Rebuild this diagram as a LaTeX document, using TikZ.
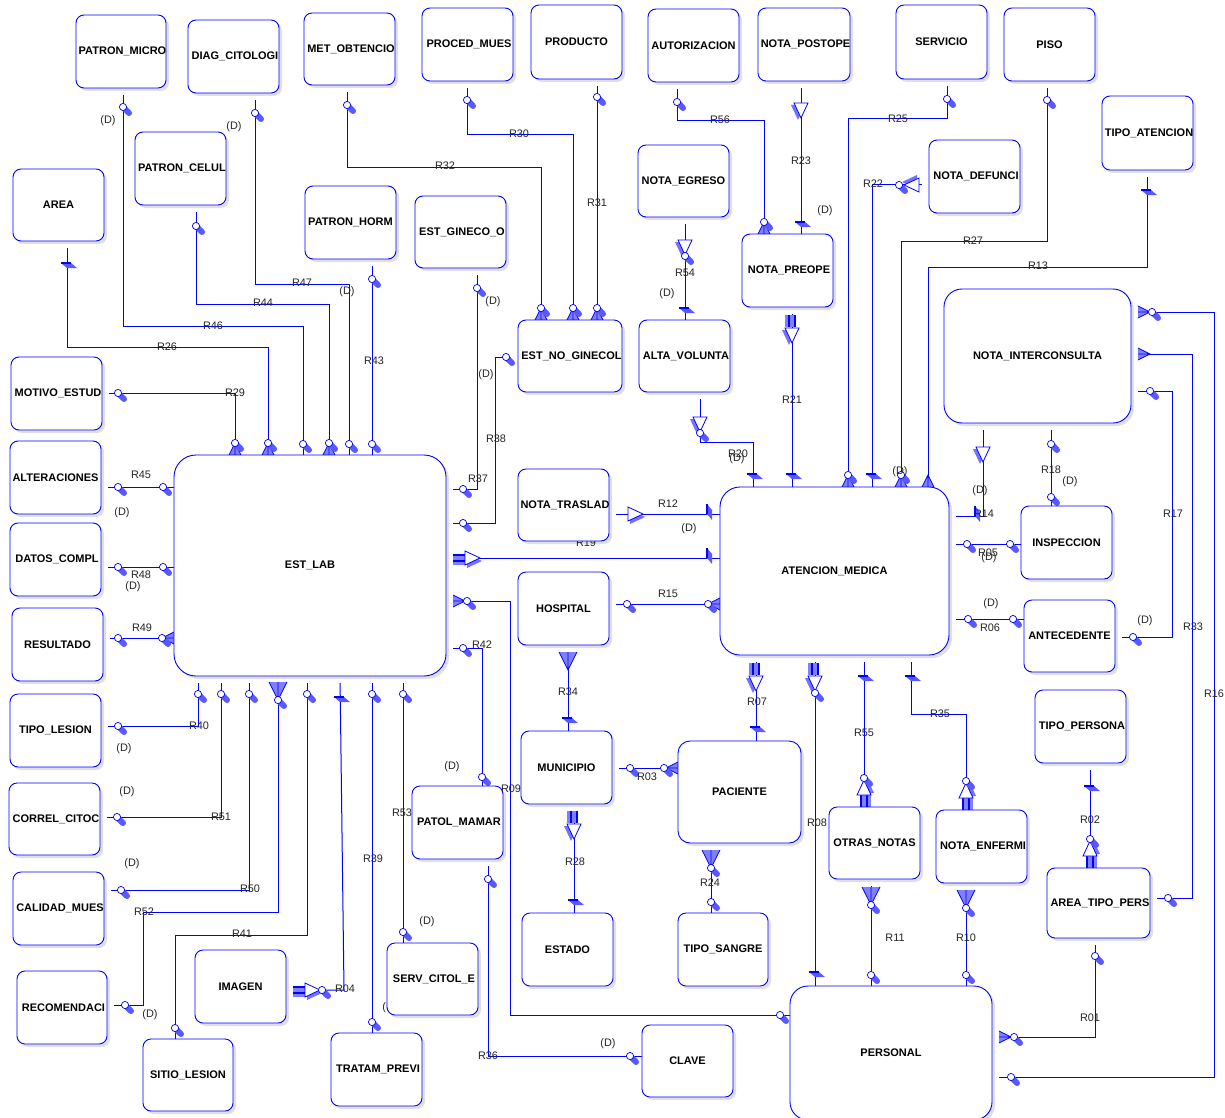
\documentclass[tikz,border=0pt]{standalone}
\usepackage{fontspec}
\setmainfont{Liberation Sans}
\usetikzlibrary{shadows}
\pgfdeclarelayer{bg}
\pgfsetlayers{bg,main}
\tikzset{
  ent/.style={draw=blue, line width=0.9pt, fill=white, inner sep=0pt, outer sep=0pt,
    general shadow={fill=black, fill opacity=0.12, shadow xshift=3pt, shadow yshift=-3pt}},
  enttext/.style={inner sep=0pt, font=\bfseries\fontsize{11}{12}\selectfont, text=black},
  rel/.style={draw=blue, line width=1pt, shorten <=7pt},
  ge/.style={shorten >=7pt},
  lbl/.style={font=\fontsize{10.9}{12}\selectfont, text=black!85, inner sep=0pt},
  oc/.pic={\draw[blue!65,line width=6pt,line cap=round] (1.5,1.5) -- (6,6);
           \draw[blue,line width=0.7pt,fill=white] (0,0) circle (3.6);},
  crow/.pic={\fill[blue!50] (0,-6) -- (12,0) -- (0,6) -- cycle;
             \draw[blue,line width=0.8pt] (0,-6) -- (12,0) -- (0,6) (0,0) -- (12,0);},
  crowl/.pic={\fill[blue!50] (0,-9) -- (18,0) -- (0,9) -- cycle;
              \draw[blue,line width=0.8pt] (0,-9) -- (18,0) -- (0,9) (0,0) -- (18,0);},
  tri/.pic={\fill[blue!55] (2,-4) -- (17,3) -- (2,10) -- cycle;
            \draw[blue,line width=0.8pt,fill=white] (0,-7) -- (15,0) -- (0,7) -- cycle;},
  par/.pic={\fill[blue!50] (0,-2) rectangle (12,7);
            \draw[blue,line width=1.6pt] (0,-3) -- (12,-3) (0,3) -- (12,3);},
  barv/.pic={\fill[blue!65] (-6,0) -- (4,0) -- (10,5) -- (0,5) -- cycle;
             \draw[blue,line width=1.3pt] (-6,0) -- (4,0);},
  barh/.pic={\fill[blue!65] (0,-6) -- (0,4) -- (5,10) -- (5,0) -- cycle;
             \draw[blue,line width=1.3pt] (0,-6) -- (0,4);}
}
\newcommand{\entC}[7][8]{\node[ent, rounded corners=#1pt, minimum width={#5-#3}, minimum height={#6-#4},
  path picture={\node[enttext] at (path picture bounding box.center) {#7};}] (#2) at ({(#3+#5)/2},{(#4+#6)/2}) {};}
\newcommand{\entL}[7][8]{\node[ent, rounded corners=#1pt, minimum width={#5-#3}, minimum height={#6-#4},
  path picture={\node[enttext,anchor=west] at ([xshift=1.5pt]path picture bounding box.west) {#7};}] (#2) at ({(#3+#5)/2},{(#4+#6)/2}) {};}
\begin{document}
\begin{tikzpicture}[x=1pt,y=-1pt]
\useasboundingbox (0,0) rectangle (1225,1118);
\clip (0,0) rectangle (1225,1118);
\begin{pgfonlayer}{bg}
\fill[white] (0,0) rectangle (1225,1118);
\end{pgfonlayer}
% ---------------- entities ----------------
\entL{pm}{76}{15}{166}{88}{PATRON\_MICRO}
\entL{dc}{188}{20}{279}{93}{DIAG\_CITOLOGI}
\entL{mo}{304}{13}{395}{85}{MET\_OBTENCIO}
\entL{pc}{135}{132}{226}{205}{PATRON\_CELUL}
\entC{ar}{13}{169}{104}{241}{AREA}
\entC{ph}{305}{186}{396}{259}{PATRON\_HORM}
\entL{pr}{422}{8}{513}{81}{PROCED\_MUES}
\entC{pd}{531}{5}{622}{79}{PRODUCTO}
\entC{au}{648}{9}{739}{82}{AUTORIZACION}
\entL{np}{758}{8}{850}{81}{NOTA\_POSTOPE}
\entL{eg}{415}{196}{506}{268}{EST\_GINECO\_O}
\entC{ne}{638}{145}{729}{217}{NOTA\_EGRESO}
\entL{npr}{742}{234}{833}{307}{NOTA\_PREOPE}
\entC{sv}{896}{5}{987}{79}{SERVICIO}
\entC{pi}{1004}{8}{1095}{81}{PISO}
\entL{nd}{929}{140}{1020}{213}{NOTA\_DEFUNCI}
\entL{ta}{1102}{96}{1193}{170}{TIPO\_ATENCION}
\entL{eng}{518}{320}{622}{392}{EST\_NO\_GINECOL}
\entL{av}{639}{320}{730}{392}{ALTA\_VOLUNTA}
\entC[18]{ni}{944}{289}{1131}{423}{NOTA\_INTERCONSULTA}
\entL{me}{11}{357}{102}{430}{MOTIVO\_ESTUD}
\entC{al}{10}{441}{101}{514}{ALTERACIONES}
\entL{dco}{10}{523}{101}{596}{DATOS\_COMPL}
\entC{re}{12}{608}{103}{681}{RESULTADO}
\entC[22]{el}{174}{455}{446}{676}{EST\_LAB}
\entL{nt}{518}{469}{609}{541}{NOTA\_TRASLAD}
\entC{ho}{518}{572}{609}{645}{HOSPITAL}
\entC[20]{am}{720}{487}{949}{655}{ATENCION\_MEDICA}
\entC{in}{1021}{506}{1112}{579}{INSPECCION}
\entC{an}{1024}{600}{1115}{672}{ANTECEDENTE}
\entC{tl}{10}{694}{101}{767}{TIPO\_LESION}
\entL{cc}{9}{783}{100}{855}{CORREL\_CITOC}
\entL{cm}{13}{872}{104}{945}{CALIDAD\_MUES}
\entL{rc}{17}{971}{107}{1044}{RECOMENDACI}
\entC{sl}{143}{1039}{233}{1111}{SITIO\_LESION}
\entC{im}{195}{950}{286}{1023}{IMAGEN}
\entL{tp}{331}{1033}{422}{1106}{TRATAM\_PREVI}
\entL{sc}{387}{943}{478}{1015}{SERV\_CITOL\_E}
\entL{pa}{412}{786}{503}{859}{PATOL\_MAMAR}
\entC{mu}{521}{731}{612}{804}{MUNICIPIO}
\entC[12]{pac}{678}{741}{801}{843}{PACIENTE}
\entC{es}{522}{913}{613}{986}{ESTADO}
\entC{ts}{678}{913}{768}{986}{TIPO\_SANGRE}
\entC{cl}{642}{1025}{733}{1097}{CLAVE}
\entC{on}{829}{807}{920}{879}{OTRAS\_NOTAS}
\entL{nen}{936}{810}{1027}{883}{NOTA\_ENFERMI}
\entL{tpe}{1035}{690}{1126}{763}{TIPO\_PERSONA}
\entL{atp}{1047}{868}{1150}{938}{AREA\_TIPO\_PERS}
\entC[18]{pe}{790}{986}{992}{1120}{PERSONAL}
% ---------------- connectors (under the boxes) ----------------
\begin{pgfonlayer}{bg}
\draw[rel] (pm.south -| 123,0) |- (303,326) -- (el.north -| 303,0); % R46
\draw[rel] (ar.south -| 67,0) |- (268,347) -- (el.north -| 268,0); % R26
\draw[rel] (me.east |- 0,393) -| (el.north -| 235,0); % R29
\draw[rel] (pc.south -| 196,0) |- (329,304) -- (el.north -| 329,0); % R44
\draw[rel] (dc.south -| 255,0) |- (349,284) -- (el.north -| 349,0); % R47
\draw[rel] (ph.south -| 372,0) -- (el.north -| 372,0); % R43
\draw[rel] (mo.south -| 347,0) |- (541,168) -- (eng.north -| 541,0); % R32
\draw[rel] (pr.south -| 467,0) |- (573,135) -- (eng.north -| 573,0); % R30
\draw[rel] (pd.south -| 597,0) -- (eng.north -| 597,0); % R31
\draw[rel] (au.south -| 677,0) |- (764,121) -- (npr.north -| 764,0); % R56
\draw[rel] (np.south -| 801,0) -- (npr.north -| 801,0); % R23
\draw[rel] (ne.south -| 685,0) -- (av.north -| 685,0); % R54
\draw[rel,ge] (eg.south -| 477,0) |- (el.east |- 0,489); % R37
\draw[rel,ge] (eng.west |- 0,357) -| (495,523) -- (el.east |- 0,523); % R38
\draw[rel] (el.east |- 0,558) -- (am.west |- 0,558); % R19
\draw[rel] (nt.east |- 0,514) -- (am.west |- 0,514); % R12
\draw[rel] (ho.east |- 0,604) -- (am.west |- 0,604); % R15
\draw[rel] (av.south -| 700,0) |- (753,442) -- (am.north -| 753,0); % R20
\draw[rel] (npr.south -| 792,0) -- (am.north -| 792,0); % R21
\draw[rel] (sv.south -| 947,0) |- (848,119) -- (am.north -| 848,0); % R25
\draw[rel] (nd.west |- 0,185) -| (am.north -| 872,0); % R22
\draw[rel] (pi.south -| 1047,0) |- (901,241) -- (am.north -| 901,0); % R27
\draw[rel] (ta.south -| 1147,0) |- (928,267) -- (am.north -| 928,0); % R13
\draw[rel,ge] (ni.south -| 983,0) |- (am.east |- 0,516); % R14
\draw[rel] (ni.south -| 1051,0) -- (in.north -| 1051,0); % R18
\draw[rel] (am.east |- 0,544) -- (in.west |- 0,544); % R05
\draw[rel] (am.east |- 0,619) -- (an.west |- 0,619); % R06
\draw[rel,ge] (ni.east |- 0,391) -| (1172,637) -- (an.east |- 0,637); % R17
\draw[rel,ge] (ni.east |- 0,354) -| (1192,898) -- (atp.east |- 0,898); % R33
\draw[rel,ge] (ni.east |- 0,312) -| (1214,1077) -- (pe.east |- 0,1077); % R16
\draw[rel,ge] (atp.south -| 1095,0) |- (pe.east |- 0,1037); % R01
\draw[rel] (tpe.south -| 1090,0) -- (atp.north -| 1090,0); % R02
\draw[rel] (on.south -| 871,0) -- (pe.north -| 871,0); % R11
\draw[rel] (nen.south -| 966,0) -- (pe.north -| 966,0); % R10
\draw[rel] (am.south -| 864,0) -- (on.north -| 864,0); % R55
\draw[rel] (am.south -| 911,0) |- (966,714) -- (nen.north -| 966,0); % R35
\draw[rel] (am.south -| 815,0) -- (pe.north -| 815,0); % R08
\draw[rel] (am.south -| 756,0) -- (pac.north -| 756,0); % R07
\draw[rel] (ho.south -| 568,0) -- (mu.north -| 568,0); % R34
\draw[rel] (mu.south -| 574,0) -- (es.north -| 574,0); % R28
\draw[rel] (mu.east |- 0,768) -- (pac.west |- 0,768); % R03
\draw[rel] (pac.south -| 711,0) -- (ts.north -| 711,0); % R24
\draw[rel] (el.east |- 0,601) -| (510,1015) -- (pe.west |- 0,1015); % R09
\draw[rel] (el.east |- 0,648) -| (pa.north -| 482,0); % R42
\draw[rel] (pa.south -| 488,0) |- (cl.west |- 0,1056); % R36
\draw[rel,ge] (el.south -| 198,0) |- (tl.east |- 0,726); % R40
\draw[rel,ge] (el.south -| 221,0) |- (cc.east |- 0,817); % R51
\draw[rel,ge] (el.south -| 249,0) |- (cm.east |- 0,890); % R50
\draw[rel,ge] (el.south -| 278,0) |- (143,912) |- (rc.east |- 0,1005); % R52
\draw[rel] (el.south -| 307,0) |- (175,935) -- (sl.north -| 175,0); % R41
\draw[rel,ge] (el.south -| 340,0) -- (344,990) -- (im.east |- 0,990); % R04
\draw[rel] (el.south -| 372,0) -- (tp.north -| 372,0); % R39
\draw[rel] (el.south -| 403,0) -- (sc.north -| 403,0); % R53
\draw[rel] (al.east |- 0,487) -- (el.west |- 0,487); % R45
\draw[rel] (dco.east |- 0,567) -- (el.west |- 0,567); % R48
\draw[rel] (re.east |- 0,638) -- (el.west |- 0,638); % R49
% labels hidden partly under boxes
\node[lbl] (lR19) at (586,543) {R19};
\node[lbl] (dh) at (390,1008) {(D)};
% ---------------- end symbols ----------------
\pic at (123,107) {oc}; \pic at (303,444) {oc};
\pic at (67,263) {barv}; \pic[rotate=90] at (268,455) {crow}; \pic at (268,443) {oc};
\pic at (118,393) {oc}; \pic[rotate=90] at (235,455) {crow}; \pic at (235,443) {oc};
\pic at (196,226) {oc}; \pic[rotate=90] at (329,455) {crow}; \pic at (329,443) {oc};
\pic at (255,113) {oc}; \pic at (349,444) {oc};
\pic at (372,279) {oc}; \pic at (372,444) {oc};
\pic at (347,105) {oc}; \pic[rotate=90] at (541,320) {crow}; \pic at (541,308) {oc};
\pic at (467,100) {oc}; \pic[rotate=90] at (573,320) {crow}; \pic at (573,308) {oc};
\pic at (597,97) {oc}; \pic[rotate=90] at (597,320) {crow}; \pic at (597,308) {oc};
\pic at (677,102) {oc}; \pic[rotate=90] at (764,234) {crow}; \pic at (764,222) {oc};
\pic[rotate=-90] at (801,103) {tri}; \pic at (801,222) {barv};
\pic[rotate=-90] at (685,240) {tri}; \pic at (685,256) {oc}; \pic at (685,308) {barv};
\pic at (477,288) {oc}; \pic at (463,489) {oc};
\pic at (506,357) {oc}; \pic at (463,523) {oc};
\pic at (453,558) {par}; \pic at (465,558) {tri}; \pic at (707,554) {barh};
\pic at (628,514) {tri}; \pic at (707,510) {barh};
\pic at (627,604) {oc}; \pic[rotate=180] at (720,604) {crow}; \pic at (708,604) {oc};
\pic[rotate=-90] at (700,417) {tri}; \pic at (700,433) {oc}; \pic at (753,474) {barv};
\pic[rotate=-90] at (792,315) {par}; \pic[rotate=-90] at (792,328) {tri}; \pic at (792,474) {barv};
\pic at (947,99) {oc}; \pic[rotate=90] at (848,487) {crow}; \pic at (848,475) {oc};
\pic[rotate=180] at (919,185) {tri}; \pic at (899,185) {oc}; \pic at (872,474) {barv};
\pic at (1047,100) {oc}; \pic[rotate=90] at (901,487) {crow}; \pic at (901,475) {oc};
\pic at (1147,190) {barv}; \pic[rotate=90] at (928,487) {crow};
\pic[rotate=-90] at (983,447) {tri}; \pic at (975,512) {barh};
\pic at (1051,444) {oc}; \pic at (1051,497) {oc};
\pic at (967,544) {oc}; \pic at (1010,544) {oc};
\pic at (968,619) {oc}; \pic at (1013,619) {oc};
\pic at (1150,391) {oc}; \pic at (1133,637) {oc};
\pic at (1138,354) {crow}; \pic at (1168,898) {oc};
\pic at (1138,312) {crow}; \pic at (1152,312) {oc}; \pic at (1011,1077) {oc};
\pic at (1095,956) {oc}; \pic at (999,1037) {crow}; \pic at (1014,1037) {oc};
\pic at (1090,786) {barv}; \pic[rotate=90] at (1090,868) {par}; \pic[rotate=90] at (1090,856) {tri}; \pic at (1090,839) {oc};
\pic[rotate=-90] at (871,887) {crowl}; \pic at (871,905) {oc}; \pic at (871,975) {oc};
\pic[rotate=-90] at (966,890) {crowl}; \pic at (966,908) {oc}; \pic at (966,975) {oc};
\pic at (864,676) {barv}; \pic[rotate=90] at (864,807) {par}; \pic[rotate=90] at (864,795) {tri}; \pic at (864,778) {oc};
\pic at (911,676) {barv}; \pic[rotate=90] at (966,810) {par}; \pic[rotate=90] at (966,798) {tri}; \pic at (966,781) {oc};
\pic[rotate=-90] at (815,663) {par}; \pic[rotate=-90] at (815,676) {tri}; \pic at (815,693) {oc}; \pic at (815,972) {barv};
\pic[rotate=-90] at (756,663) {par}; \pic[rotate=-90] at (756,676) {tri}; \pic at (756,727) {barv};
\pic[rotate=-90] at (568,652) {crowl}; \pic at (568,718) {barv};
\pic[rotate=-90] at (574,811) {par}; \pic[rotate=-90] at (574,824) {tri}; \pic at (574,900) {barv};
\pic at (630,768) {oc}; \pic[rotate=180] at (678,768) {crow}; \pic at (664,768) {oc};
\pic[rotate=-90] at (711,850) {crowl}; \pic at (711,868) {oc}; \pic at (711,902) {oc};
\pic at (453,601) {crow}; \pic at (467,601) {oc}; \pic at (780,1015) {oc};
\pic at (463,648) {oc}; \pic at (482,777) {oc};
\pic at (488,879) {oc}; \pic at (630,1056) {oc};
\pic at (198,694) {oc}; \pic at (118,726) {oc};
\pic at (221,694) {oc}; \pic at (117,817) {oc};
\pic at (249,694) {oc}; \pic at (121,890) {oc};
\pic[rotate=-90] at (278,682) {crowl}; \pic at (278,700) {oc}; \pic at (125,1005) {oc};
\pic at (307,694) {oc}; \pic at (175,1028) {oc};
\pic at (340,697) {barv}; \pic at (293,990) {par}; \pic at (305,990) {tri}; \pic at (322,990) {oc};
\pic at (372,694) {oc}; \pic at (372,1022) {oc};
\pic at (403,694) {oc}; \pic at (403,932) {oc};
\pic at (118,487) {oc}; \pic at (163,487) {oc};
\pic at (118,567) {oc}; \pic at (163,567) {oc};
\pic at (118,638) {oc}; \pic[rotate=180] at (174,638) {crow}; \pic at (162,638) {oc};
\end{pgfonlayer}
% ---------------- relationship labels ----------------
\node[lbl] (lR46) at (213,326) {R46};
\node[lbl] (lR26) at (167,347) {R26};
\node[lbl] (lR29) at (235,393) {R29};
\node[lbl] (lR44) at (263,303) {R44};
\node[lbl] (lR47) at (302,283) {R47};
\node[lbl] (lR43) at (374,361) {R43};
\node[lbl] (lR32) at (445,166) {R32};
\node[lbl] (lR30) at (519,134) {R30};
\node[lbl] (lR31) at (597,203) {R31};
\node[lbl] (lR56) at (720,120) {R56};
\node[lbl] (lR23) at (801,161) {R23};
\node[lbl] (lR54) at (685,273) {R54};
\node[lbl] (lR37) at (478,479) {R37};
\node[lbl] (lR38) at (496,439) {R38};
\node[lbl] (lR12) at (668,504) {R12};
\node[lbl] (lR15) at (668,594) {R15};
\node[lbl] (lR20) at (738,454) {R20};
\node[lbl] (lR21) at (792,400) {R21};
\node[lbl] (lR25) at (898,119) {R25};
\node[lbl] (lR22) at (873,184) {R22};
\node[lbl] (lR27) at (973,241) {R27};
\node[lbl] (lR13) at (1038,266) {R13};
\node[lbl] (lR14) at (984,514) {R14};
\node[lbl] (lR18) at (1051,470) {R18};
\node[lbl] (lR05) at (988,553) {R05};
\node[lbl] (lR06) at (990,628) {R06};
\node[lbl] (lR17) at (1173,514) {R17};
\node[lbl] (lR33) at (1193,627) {R33};
\node[lbl] (lR16) at (1214,694) {R16};
\node[lbl] (lR01) at (1090,1018) {R01};
\node[lbl] (lR02) at (1090,820) {R02};
\node[lbl] (lR11) at (895,938) {R11};
\node[lbl] (lR10) at (966,938) {R10};
\node[lbl] (lR55) at (864,733) {R55};
\node[lbl] (lR35) at (940,714) {R35};
\node[lbl] (lR08) at (817,823) {R08};
\node[lbl] (lR07) at (757,702) {R07};
\node[lbl] (lR34) at (568,692) {R34};
\node[lbl] (lR28) at (575,862) {R28};
\node[lbl] (lR03) at (647,777) {R03};
\node[lbl] (lR24) at (710,883) {R24};
\node[lbl] (lR09) at (511,789) {R09};
\node[lbl] (lR42) at (482,645) {R42};
\node[lbl] (lR36) at (488,1056) {R36};
\node[lbl] (lR40) at (199,726) {R40};
\node[lbl] (lR51) at (221,817) {R51};
\node[lbl] (lR50) at (250,889) {R50};
\node[lbl] (lR52) at (144,912) {R52};
\node[lbl] (lR41) at (242,934) {R41};
\node[lbl] (lR04) at (345,989) {R04};
\node[lbl] (lR39) at (373,859) {R39};
\node[lbl] (lR53) at (402,813) {R53};
\node[lbl] (lR45) at (141,475) {R45};
\node[lbl] (lR48) at (141,575) {R48};
\node[lbl] (lR49) at (142,628) {R49};
% ---------------- (D) marks ----------------
\node[lbl] (d01) at (108,121) {(D)};
\node[lbl] (d02) at (234,127) {(D)};
\node[lbl] (d03) at (347,292) {(D)};
\node[lbl] (d04) at (493,302) {(D)};
\node[lbl] (d05) at (486,375) {(D)};
\node[lbl] (d06) at (667,294) {(D)};
\node[lbl] (d07) at (825,211) {(D)};
\node[lbl] (d08) at (900,472) {(D)};
\node[lbl] (d09) at (737,459) {(D)};
\node[lbl] (d10) at (689,529) {(D)};
\node[lbl] (d11) at (980,491) {(D)};
\node[lbl] (d12) at (1070,482) {(D)};
\node[lbl] (d13) at (989,558) {(D)};
\node[lbl] (d14) at (991,604) {(D)};
\node[lbl] (d15) at (1145,621) {(D)};
\node[lbl] (d16) at (122,513) {(D)};
\node[lbl] (d17) at (133,587) {(D)};
\node[lbl] (d18) at (124,749) {(D)};
\node[lbl] (d19) at (127,792) {(D)};
\node[lbl] (d20) at (132,864) {(D)};
\node[lbl] (d21) at (150,1015) {(D)};
\node[lbl] (d22) at (452,767) {(D)};
\node[lbl] (d23) at (427,922) {(D)};
\node[lbl] (d24) at (608,1044) {(D)};
\end{tikzpicture}
\end{document}
